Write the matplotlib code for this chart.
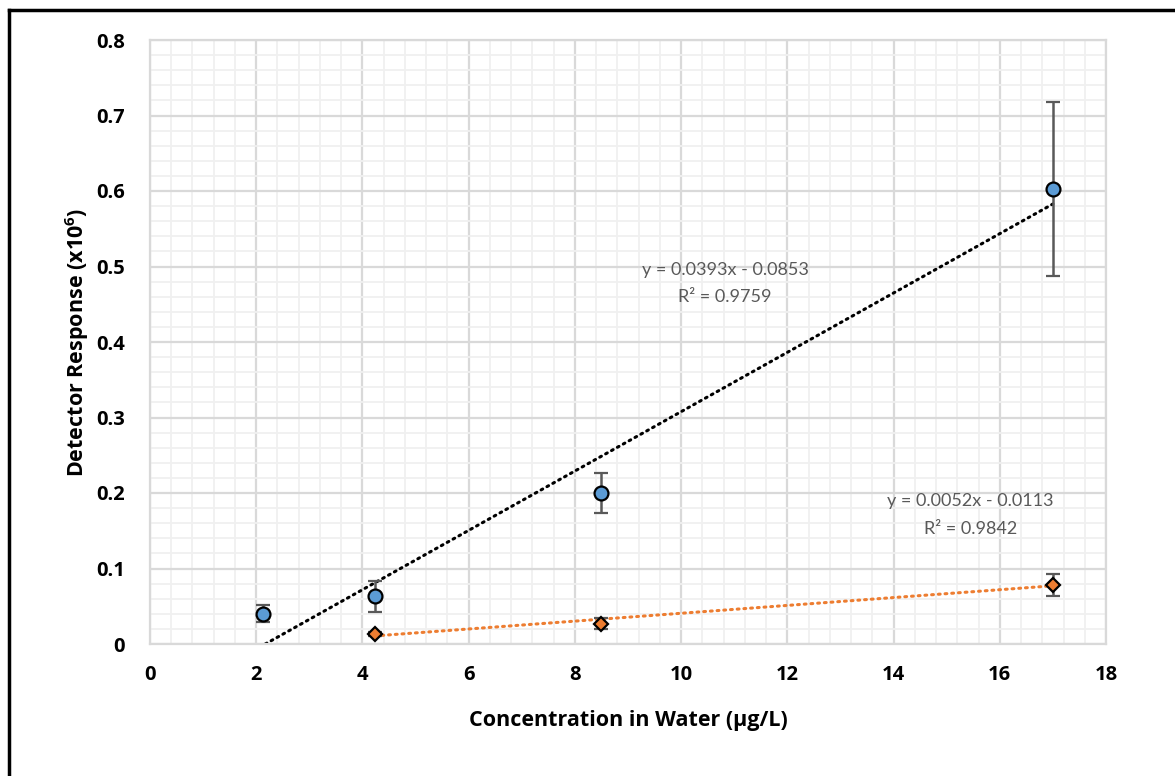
import matplotlib.pyplot as plt
import numpy as np
from matplotlib.ticker import MultipleLocator

plt.rcParams['font.family'] = ['Open Sans', 'DejaVu Sans']
plt.rcParams['mathtext.fontset'] = 'custom'
plt.rcParams['mathtext.bf'] = 'Open Sans:bold'
plt.rcParams['mathtext.rm'] = 'Open Sans'

# 数据
conc = [2.12, 4.24, 8.5, 17.0]
resp_a = [0.040, 0.063, 0.200, 0.603]
err_a = [0.011, 0.020, 0.026, 0.115]

conc_b = [4.24, 8.5, 17.0]
resp_b = [0.013, 0.027, 0.078]
err_b = [0.003, 0.007, 0.015]

# 趋势线系数 (斜率, 截距, R²)
fit_a = (0.0393, -0.0853, 0.9759)
fit_b = (0.0052, -0.0113, 0.9842)

blue = '#5b9bd5'
orange = '#ed7d31'
grey_txt = '#595959'

fig = plt.figure(figsize=(11.75, 7.76), dpi=100)
ax = fig.add_axes([150 / 1175, 1 - 644 / 776, 956 / 1175, 604 / 776])

# 网格
ax.set_xlim(0, 18)
ax.set_ylim(0, 0.8)
ax.xaxis.set_major_locator(MultipleLocator(2))
ax.xaxis.set_minor_locator(MultipleLocator(0.4))
ax.yaxis.set_major_locator(MultipleLocator(0.1))
ax.yaxis.set_minor_locator(MultipleLocator(0.02))
ax.grid(which='minor', color='#f0f0f0', lw=1.3, zorder=0)
ax.grid(which='major', color='#d9d9d9', lw=1.6, zorder=0)
ax.set_axisbelow(True)
for s in ax.spines.values():
    s.set_color('#d9d9d9')
    s.set_linewidth(1.6)
ax.tick_params(which='both', length=0)
ax.tick_params(axis='x', pad=15)
ax.tick_params(axis='y', pad=18)
ax.set_yticks(np.arange(0, 0.81, 0.1))
ax.set_yticklabels(['0'] + [f'{v:.1f}' for v in np.arange(0.1, 0.81, 0.1)])
for lab in ax.get_xticklabels() + ax.get_yticklabels():
    lab.set_fontweight('bold')
    lab.set_fontsize(14.5)

# 趋势线
def trend(xs, fit, color):
    m, b, _ = fit
    x0 = max(min(xs), -b / m)
    xx = np.array([x0, max(xs)])
    ax.plot(xx, m * xx + b, color=color, lw=2.2, ls=(0, (0.6, 1.6)),
            dash_capstyle='round', zorder=2)

trend(conc, fit_a, 'black')
trend(conc_b, fit_b, orange)

# 数据点和误差线
ax.errorbar(conc, resp_a, yerr=err_a, fmt='o', ms=10, mfc=blue, mec='black',
            mew=1.6, ecolor=grey_txt, elinewidth=1.8, capsize=5, capthick=1.8,
            zorder=3)
ax.errorbar(conc_b, resp_b, yerr=err_b, fmt='D', ms=7, mfc=orange, mec='black',
            mew=1.6, ecolor=grey_txt, elinewidth=1.8, capsize=5, capthick=1.8,
            zorder=3)

# 方程标注
eq_font = dict(ha='center', va='center', fontsize=13, color=grey_txt,
               family=['Lato', 'DejaVu Sans'])
ax.text(10.83, 0.495, f'y = {fit_a[0]:.4f}x - {-fit_a[1]:.4f}', **eq_font)
ax.text(10.83, 0.459, f'R² = {fit_a[2]:.4f}', **eq_font)
ax.text(15.45, 0.190, f'y = {fit_b[0]:.4f}x - {-fit_b[1]:.4f}', **eq_font)
ax.text(15.45, 0.152, f'R² = {fit_b[2]:.4f}', **eq_font)

ax.set_xlabel('Concentration in Water (µg/L)', fontsize=15.5,
              fontweight='bold', labelpad=18)
ax.set_ylabel('Detector Response (x10$^{\\mathbf{6}}$)', fontsize=15.5,
              fontweight='bold', labelpad=4)

# 外框（只露出上边和左边）
fig.add_artist(plt.Line2D([9 / 1175, 1.01], [1 - 10 / 776, 1 - 10 / 776],
                          transform=fig.transFigure, color='black', lw=2.5))
fig.add_artist(plt.Line2D([9 / 1175, 9 / 1175], [-0.01, 1 - 10 / 776],
                          transform=fig.transFigure, color='black', lw=2.5))

fig.savefig('out.png', dpi=100)
